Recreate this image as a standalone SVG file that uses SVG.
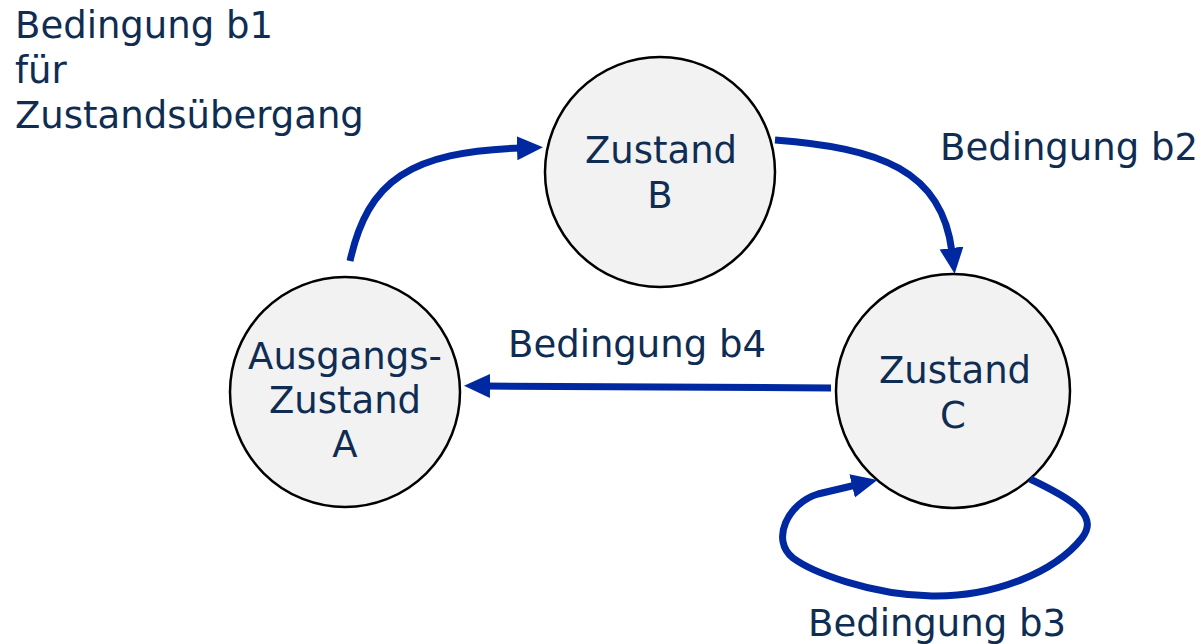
<svg xmlns="http://www.w3.org/2000/svg" width="1202" height="644" viewBox="0 0 1202 644">
<style>
.node{fill:#f2f2f2;stroke:#000;stroke-width:2.5}
.t{font-family:"DejaVu Sans",Verdana,sans-serif;font-size:37px;fill:#0f2d52}
.c{text-anchor:middle}
.e{fill:none;stroke:#0028a0;stroke-width:7}
</style>
<defs>
<marker id="ah" markerUnits="userSpaceOnUse" markerWidth="30" markerHeight="30" viewBox="0 0 30 30" refX="4" refY="15" orient="auto">
<path d="M0,3 L26,15 L0,27 Z" fill="#0028a0"/>
</marker>
</defs>
<rect width="1202" height="644" fill="#fff"/>
<g id="nodeB"><circle class="node" cx="660" cy="172" r="115"/><text class="t c" x="661" y="163">Zustand</text><text class="t c" x="660" y="208">B</text></g>
<g id="nodeA"><circle class="node" cx="345" cy="392" r="115"/><text class="t c" x="345" y="369">Ausgangs-</text><text class="t c" x="345" y="413">Zustand</text><text class="t c" x="345" y="457">A</text></g>
<g id="nodeC"><circle class="node" cx="953" cy="391" r="117"/><text class="t c" x="955" y="383">Zustand</text><text class="t c" x="953" y="428">C</text></g>
<g id="connectors">
<path class="e" d="M350,261 C368,180 410,152 521,148" marker-end="url(#ah)"/>
<path class="e" d="M775,140 C880,148 942,170 952,252" marker-end="url(#ah)"/>
<path class="e" d="M831,388 L486,386" marker-end="url(#ah)"/>
<path class="e" d="M1030,479 C1070,498 1100,515 1082,538 C1055,572 995,597 932,596 C870,595 812,572 793,558 C770,540 788,503 818,494 L856,485" marker-end="url(#ah)"/>
</g>
<g id="labels">
<text class="t" x="15" y="38">Bedingung b1</text>
<text class="t" x="15" y="83">für</text>
<text class="t" x="15" y="128">Zustandsübergang</text>
<text class="t" x="940" y="160">Bedingung b2</text>
<text class="t" x="508" y="357">Bedingung b4</text>
<text class="t" x="808" y="636">Bedingung b3</text>
</g>
</svg>
